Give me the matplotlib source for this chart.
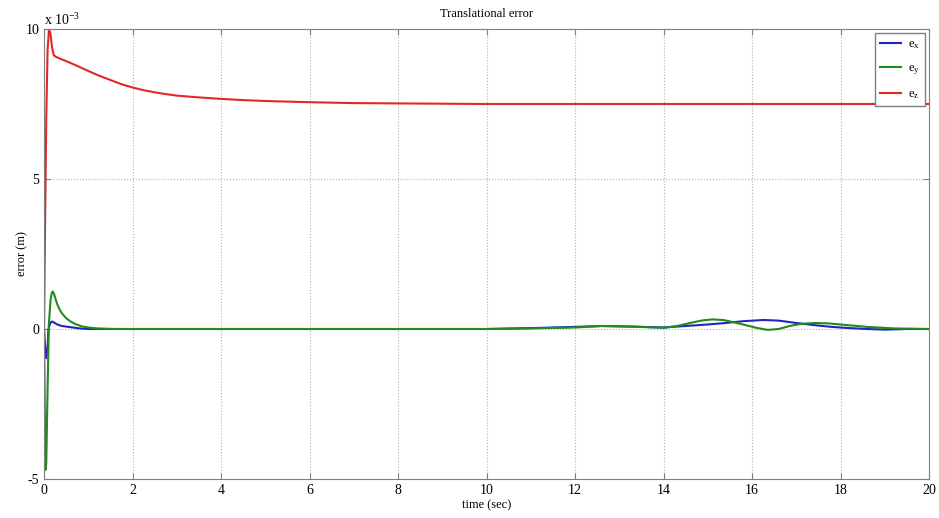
import numpy as np
import matplotlib
matplotlib.use("Agg")
import matplotlib.pyplot as plt

plt.rcParams['font.family'] = ['Liberation Serif', 'DejaVu Serif']
plt.rcParams['mathtext.fontset'] = 'custom'
plt.rcParams['mathtext.rm'] = 'Liberation Serif'
plt.rcParams['mathtext.it'] = 'Liberation Serif'
plt.rcParams['axes.unicode_minus'] = False

# sampled error traces (units of 1e-3 m)
t_z = [0, 0.02, 0.05, 0.08, 0.11, 0.14, 0.18, 0.22, 0.3, 0.5, 0.75, 1.0, 1.25,
       1.5, 1.75, 2.0, 2.25, 2.5, 2.75, 3.0, 3.5, 4.0, 4.5, 5.0, 5.5, 6.0, 7.0,
       8.0, 9.0, 10, 12, 14, 16, 18, 20]
e_z = [0, 3.0, 7.0, 9.3, 9.95, 9.9, 9.4, 9.12, 9.05, 8.93, 8.77, 8.6, 8.44,
       8.3, 8.16, 8.05, 7.96, 7.89, 7.83, 7.78, 7.72, 7.67, 7.63, 7.6, 7.58, 7.56,
       7.53, 7.52, 7.51, 7.5, 7.5, 7.5, 7.5, 7.5, 7.5]

t_y = [0, 0.01, 0.03, 0.05, 0.08, 0.11, 0.15, 0.18, 0.2, 0.23, 0.26, 0.3, 0.35,
       0.4, 0.5, 0.6, 0.7, 0.85, 1.0, 1.2, 1.4, 1.6, 4, 8, 10, 11, 12, 12.6, 13.3,
       14.0, 14.3, 14.6, 14.85, 15.1, 15.35, 15.6, 15.85, 16.1, 16.35, 16.6, 16.85,
       17.1, 17.4, 17.7, 18.0, 18.6, 19.2, 20]
e_y = [0, -1.5, -4.7, -4.5, -2.0, 0.2, 1.0, 1.22, 1.25, 1.15, 1.0, 0.82, 0.66,
       0.53, 0.36, 0.25, 0.17, 0.09, 0.05, 0.02, 0.01, 0, 0, 0, 0, 0.02, 0.05, 0.1,
       0.08, 0.04, 0.1, 0.2, 0.28, 0.32, 0.3, 0.22, 0.13, 0.04, -0.03, 0.0, 0.1,
       0.17, 0.2, 0.19, 0.15, 0.07, 0.02, 0.0]

t_x = [0, 0.02, 0.05, 0.08, 0.1, 0.14, 0.18, 0.22, 0.3, 0.4, 0.5, 0.65, 0.8, 1.0,
       4, 8, 10, 11, 12, 12.6, 13.3, 14.0, 14.5, 15.0, 15.4, 15.8, 16.25, 16.6,
       17.0, 17.4, 17.8, 18.2, 18.6, 19.0, 19.5, 20]
e_x = [0, -0.5, -0.97, -0.6, 0.0, 0.2, 0.25, 0.22, 0.15, 0.1, 0.08, 0.05, 0.02, 0,
       0, 0, 0, 0.03, 0.07, 0.1, 0.08, 0.05, 0.1, 0.15, 0.2, 0.26, 0.3, 0.28, 0.2,
       0.13, 0.07, 0.03, 0.0, -0.02, 0.0, 0.0]

fig = plt.figure(figsize=(9.39, 5.18), dpi=100)
ax = fig.add_axes([0.0469, 0.0753, 0.9425, 0.8687])

scale = 1e-3
ax.plot(t_x, np.array(e_x) * scale, color='#2424c0', lw=1.5, label=r'e$_\mathrm{x}$')
ax.plot(t_y, np.array(e_y) * scale, color='#1f8c1f', lw=1.5, label=r'e$_\mathrm{y}$')
ax.plot(t_z, np.array(e_z) * scale, color='#e02828', lw=1.5, label=r'e$_\mathrm{z}$')

ax.set_xlim(0, 20)
ax.set_ylim(-5e-3, 10e-3)
ax.set_xticks(np.arange(0, 21, 2))
ax.set_yticks([-5e-3, 0, 5e-3, 10e-3])
ax.set_yticklabels(['-5', '0', '5', '10'])
ax.tick_params(direction='in', labelsize=10, color='#808080', length=4,
               top=True, right=True)
for s in ax.spines.values():
    s.set_color('#808080')
ax.grid(True, linestyle=':', color='#b0b0b0', lw=0.8)

ax.text(0.0, 1.003, r'x 10$^{-3}$', transform=ax.transAxes, fontsize=10,
        ha='left', va='bottom')
ax.set_title('Translational error', fontsize=9, pad=9)
ax.set_xlabel('time (sec)', fontsize=9, labelpad=2)
ax.set_ylabel('error (m)', fontsize=9, labelpad=-2)

leg = ax.legend(loc='upper right', fontsize=9, handlelength=1.7, handletextpad=0.5,
                fancybox=False, borderaxespad=0.35, labelspacing=0.9, framealpha=1)
leg.get_frame().set_edgecolor('#808080')

fig.savefig('out.png', dpi=100)
